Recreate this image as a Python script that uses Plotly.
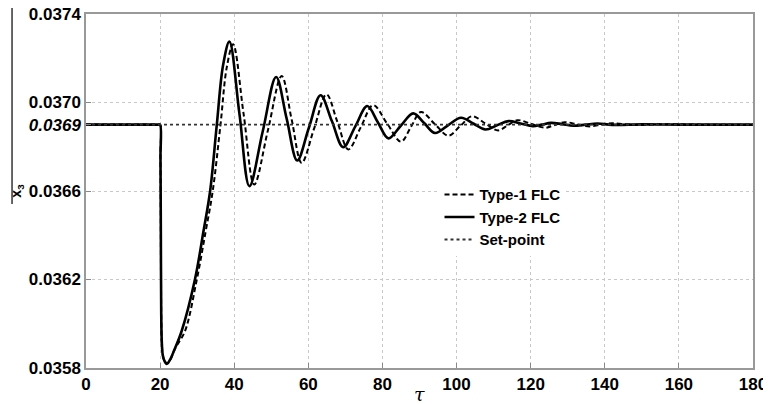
import plotly.graph_objects as go

# ---- data ----
t_type2 = [0, 10, 19.6, 20.0, 20.1, 20.2, 20.3, 20.45, 20.7, 21.1, 21.8, 22.6, 23.8,
           25.8, 29.4, 31.7, 33.5, 35.3, 37.0, 38.7,
           41.4, 44.1, 47.7, 51.3, 54.15, 57.0, 60.15, 63.3, 66.35, 69.4, 72.65, 75.9,
           78.75, 81.6, 84.95, 88.3, 91.25, 94.2, 97.7, 101.2, 104.5, 107.8, 110.9, 114.0,
           117.3, 120.6, 123.0, 125.5, 128.5, 131.5, 134.8, 138.0, 142.0, 150.0, 160.0, 180.0]
x3_type2 = [0.03690, 0.03690, 0.03690, 0.03690, 0.03675, 0.03640, 0.03605, 0.03592,
            0.03586, 0.035835, 0.035818, 0.035835, 0.03588,
            0.035966, 0.036200, 0.036418, 0.036600, 0.036900, 0.037170, 0.037275,
            0.036950, 0.036622, 0.036870, 0.037115, 0.036927, 0.036738, 0.036886, 0.037033,
            0.036916, 0.036798, 0.036891, 0.036984, 0.036911, 0.036838, 0.036895, 0.036951,
            0.036907, 0.036862, 0.036897, 0.036931, 0.036905, 0.036878, 0.036897, 0.036916,
            0.036905, 0.036893, 0.036900, 0.036908, 0.036902, 0.036895, 0.036900, 0.036905,
            0.036899, 0.036901, 0.036900, 0.036900]

t_type1 = [0, 10, 19.6, 20.0, 20.1, 20.2, 20.3, 20.45, 20.7, 21.1, 21.9, 22.8, 24.1,
           26.7, 29.9, 32.3, 34.2, 36.3, 38.0, 39.7,
           42.55, 45.4, 49.1, 52.8, 55.5, 58.2, 61.55, 64.9, 67.85, 70.8, 74.15, 77.5,
           81.25, 85.0, 87.7, 90.4, 94.1, 97.8, 101.0, 104.2, 107.7, 111.2, 113.8, 116.4,
           120.2, 123.9, 126.5, 129.2, 132.6, 136.0, 139.0, 142.0, 148.0, 155.0, 165.0, 180.0]
x3_type1 = [0.03690, 0.03690, 0.03690, 0.03690, 0.03675, 0.03640, 0.03605, 0.03592,
            0.03586, 0.035835, 0.035820, 0.035838, 0.03589,
            0.035966, 0.036200, 0.036418, 0.036600, 0.036900, 0.037160, 0.037263,
            0.036946, 0.036629, 0.036875, 0.037120, 0.036923, 0.036727, 0.036882, 0.037037,
            0.036912, 0.036788, 0.036888, 0.036988, 0.036905, 0.036823, 0.036890, 0.036957,
            0.036903, 0.036850, 0.036894, 0.036938, 0.036906, 0.036874, 0.036897, 0.036920,
            0.036903, 0.036886, 0.036898, 0.036911, 0.036901, 0.036892, 0.036900, 0.036906,
            0.036898, 0.036902, 0.036900, 0.036900]

t_setpoint = [0, 180]
x3_setpoint = [0.0369, 0.0369]

x_ticks = [0, 20, 40, 60, 80, 100, 120, 140, 160, 180]
y_ticks = [0.0358, 0.0362, 0.0366, 0.0369, 0.0370, 0.0374]
y_ticktext = ["0.0358", "0.0362", "0.0366", "<i>0.0369</i>", "0.0370", "0.0374"]

fig = go.Figure()
fig.add_trace(go.Scatter(x=t_type1, y=x3_type1, mode="lines", name="Type-1 FLC",
                         line=dict(color="black", width=2, dash="5px,3px", shape="spline", smoothing=1.0)))
fig.add_trace(go.Scatter(x=t_type2, y=x3_type2, mode="lines", name="Type-2 FLC",
                         line=dict(color="black", width=2.6, shape="spline", smoothing=1.0)))
fig.add_trace(go.Scatter(x=t_setpoint, y=x3_setpoint, mode="lines", name="Set-point",
                         line=dict(color="#333333", width=1.8, dash="dot")))

tickfont = dict(family="Liberation Sans", size=17, color="black", weight="bold")

# the page body adds an 8px offset, so the figure is 8px smaller and margins shifted
fig.update_layout(
    width=763, height=396,
    margin=dict(l=78, r=18, t=6, b=36),
    paper_bgcolor="white", plot_bgcolor="white",
    showlegend=True,
    legend=dict(x=0.530, y=0.536, xanchor="left", yanchor="top",
                bgcolor="white", borderwidth=0,
                font=dict(family="Liberation Sans", size=15, color="black", weight="bold"),
                tracegroupgap=0),
    xaxis=dict(range=[0, 180], tickvals=x_ticks, ticks="inside", ticklen=5,
               tickcolor="#888888", tickwidth=1.2, automargin=False,
               ticklabeloverflow="allow",
               showline=True, linecolor="#999999", linewidth=1.5, mirror=True,
               showgrid=True, gridcolor="#c8c8c8", griddash="dot", gridwidth=1,
               zeroline=False, tickfont=tickfont),
    yaxis=dict(range=[0.0358, 0.0374], tickvals=y_ticks, ticktext=y_ticktext,
               ticks="inside", ticklen=5, tickcolor="#888888", tickwidth=1.2,
               automargin=False, ticklabeloverflow="allow",
               showline=True, linecolor="#999999", linewidth=1.5, mirror=True,
               showgrid=True, gridcolor="#c8c8c8", griddash="dot", gridwidth=1,
               zeroline=False, tickfont=tickfont),
)

fig.add_annotation(text="<i>τ</i>", xref="paper", yref="paper",
                   x=0.5, y=-0.073, xanchor="center", yanchor="middle", showarrow=False,
                   font=dict(family="DejaVu Serif", size=19, color="black"))
fig.add_annotation(text="x<sub>3</sub>", xref="paper", yref="paper",
                   x=-0.104, y=0.5, xanchor="center", yanchor="middle",
                   textangle=-90, showarrow=False,
                   font=dict(family="Liberation Sans", size=14, color="black", weight="bold"))
fig.add_shape(type="line", xref="paper", yref="paper",
              x0=-0.1109, x1=-0.1109, y0=0.463, y1=1.02,
              line=dict(color="black", width=1.2))

fig.write_html("out.html")
